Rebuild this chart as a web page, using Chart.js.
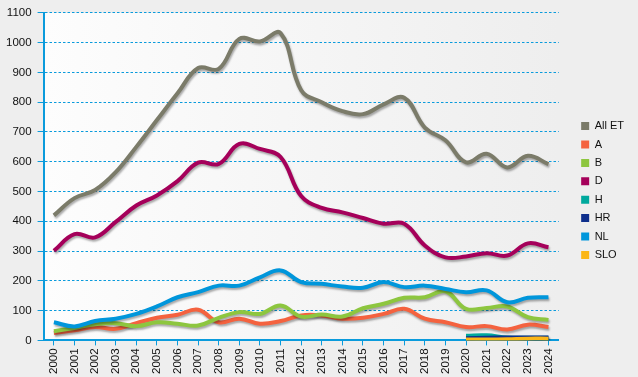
<!DOCTYPE html>
<html>
<head>
<meta charset="utf-8">
<script src="https://cdn.jsdelivr.net/npm/chart.js@4.4.1/dist/chart.umd.min.js"></script>
<style>
  html, body { margin: 0; padding: 0; background: #eeeeee; }
</style>
</head>
<body>
<canvas id="chart" width="638" height="377"></canvas>
<script>
const years = ['2000','2001','2002','2003','2004','2005','2006','2007','2008','2009','2010','2011','2012',
               '2013','2014','2015','2016','2017','2018','2019','2020','2021','2022','2023','2024'];

const allET = [420, 478, 505, 565, 650, 740, 830, 915, 912, 1013, 1004, 1032, 840, 800, 770, 760, 793, 815, 715, 672, 598, 627, 581, 620, 592];
const valA  = [25, 34, 45, 39, 58, 76, 86, 103, 61, 73, 56, 65, 84, 84, 73, 76, 89, 106, 73, 61, 45, 48, 37, 53, 45];
const valB  = [31, 42, 54, 58, 48, 61, 56, 50, 76, 95, 89, 117, 80, 87, 80, 108, 123, 143, 145, 165, 106, 109, 114, 78, 69];
const valD  = [301, 357, 346, 398, 453, 487, 535, 597, 593, 660, 643, 616, 485, 445, 430, 411, 392, 392, 319, 279, 282, 293, 285, 326, 313];
const valH  = [null, null, null, null, null, null, null, null, null, null, null, null, null, null, null, null, null, null, null, null, 16, 17, 10, 9, 9];
const valHR = [null, null, null, null, null, null, null, null, null, null, null, null, null, null, null, null, null, null, null, null, 7, 9, 10, 10, 10];
const valNL = [61, 47, 65, 73, 89, 114, 145, 162, 184, 184, 212, 235, 196, 190, 181, 177, 196, 179, 184, 173, 162, 168, 128, 143, 145];
const valSLO = [null, null, null, null, null, null, null, null, null, null, null, null, null, null, null, null, null, null, null, null, 3, 3, 4, 6, 6];

const names  = ['All ET', 'A', 'B', 'D', 'H', 'HR', 'NL', 'SLO'];
const colors = ['#7b7b69', '#f4623f', '#8dc63f', '#a5005a', '#00a99d', '#0e2f8c', '#0096db', '#fbb616'];
const series = [allET, valA, valB, valD, valH, valHR, valNL, valSLO];

const blue = '#0a9bdc';
const font = { family: "'Liberation Sans', Arial, sans-serif", size: 11.5 };

// plot area background gradient
const plotBg = {
  id: 'plotBg',
  beforeDraw(chart) {
    const { ctx, chartArea: a } = chart;
    const g = ctx.createLinearGradient(a.left, 0, a.right, 0);
    g.addColorStop(0, '#fdfdfd');
    g.addColorStop(1, '#eeeeee');
    ctx.save();
    ctx.fillStyle = g;
    ctx.fillRect(a.left, a.top, a.right - a.left, a.bottom - a.top);
    ctx.restore();
  }
};

// soft drop shadow under the lines
const lineShadow = {
  id: 'lineShadow',
  beforeDatasetsDraw(chart) {
    const c = chart.ctx;
    c.save();
    c.shadowColor = 'rgba(0,0,0,0.32)';
    c.shadowOffsetX = 1;
    c.shadowOffsetY = 2;
    c.shadowBlur = 2;
  },
  afterDatasetsDraw(chart) { chart.ctx.restore(); }
};

// leave a gap between plot and legend
const legendShift = {
  id: 'legendShift',
  afterLayout(chart) {
    chart.legend.left += 15;
    chart.legend.right += 15;
    chart.legend.top -= 4;
    chart.legend.bottom -= 4;
  }
};

new Chart(document.getElementById('chart'), {
  type: 'line',
  data: {
    labels: years,
    datasets: series.map((d, i) => ({
      label: names[i],
      data: d,
      borderColor: colors[i],
      backgroundColor: colors[i],
      borderWidth: 4,
      pointRadius: 0,
      tension: 0.4,
      fill: false,
      order: series.length - i
    }))
  },
  options: {
    responsive: false,
    animation: false,
    layout: { padding: { left: 0, top: 12, right: 19, bottom: 0 } },
    plugins: {
      tooltip: { enabled: false },
      legend: {
        position: 'right',
        reverse: true,
        labels: {
          boxWidth: 8,
          boxHeight: 8,
          padding: 7.4,
          color: '#111',
          font: { family: font.family, size: 11 },
          generateLabels: chart => Chart.defaults.plugins.legend.labels.generateLabels(chart)
            .map(l => ({ ...l, lineWidth: 0 }))
        }
      }
    },
    scales: {
      x: {
        offset: true,
        ticks: { minRotation: 90, maxRotation: 90, autoSkip: false, color: '#111', font: font, padding: 3 },
        grid: { offset: false, drawOnChartArea: false, tickLength: 5, color: blue },
        border: { color: blue, width: 2 }
      },
      y: {
        min: 0,
        max: 1100,
        ticks: { stepSize: 100, color: '#111', font: font, padding: 6, callback: v => String(v) },
        grid: { color: blue, lineWidth: 1, tickLength: 6, tickColor: blue },
        border: { color: blue, width: 2, dash: [2.5, 2] }
      }
    }
  },
  plugins: [plotBg, lineShadow, legendShift]
});
</script>
</body>
</html>
